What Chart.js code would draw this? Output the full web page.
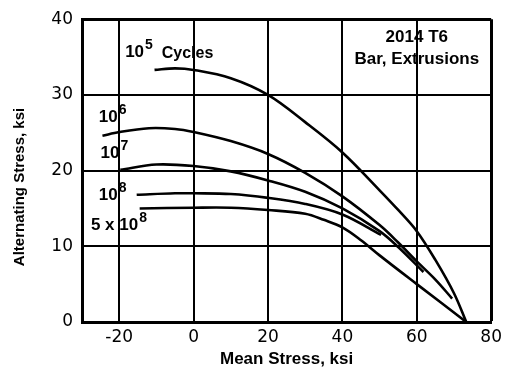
<!DOCTYPE html>
<html>
<head>
<meta charset="utf-8">
<script src="https://cdn.jsdelivr.net/npm/chart.js@4"></script>
<style>
  html, body { margin: 0; padding: 0; background: #fff; }
  #wrap { width: 507px; height: 371px; }
</style>
</head>
<body>
<div id="wrap"><canvas id="goodman"></canvas></div>
<script>
// axis ticks
const meanTicks = [-20, 0, 20, 40, 60, 80];
const altTicks = [0, 10, 20, 30, 40];

// constant life curves (mean stress, alternating stress) in ksi
const mean1e5 = [-10.5, -5, 0, 10, 20, 30, 40, 50, 55, 60, 65, 70, 73.3];
const alt1e5  = [33.3, 33.5, 33.3, 32.2, 30.0, 26.4, 22.4, 17.4, 14.8, 12.0, 8.2, 3.8, 0];

const mean1e6 = [-24.5, -20, -12, -5, 0, 10, 20, 30, 40, 50, 55, 60, 65, 69.5];
const alt1e6  = [24.6, 25.1, 25.6, 25.5, 25.1, 23.9, 22.2, 19.7, 16.6, 12.8, 10.5, 8.0, 5.6, 3.1];

const mean1e7 = [-19.7, -10, 0, 10, 20, 30, 40, 50, 55, 61.8];
const alt1e7  = [20.1, 20.8, 20.6, 19.9, 18.7, 17.2, 15.0, 12.0, 9.9, 6.6];

const mean1e8 = [-15.3, -5, 0, 10, 20, 30, 40, 50.4];
const alt1e8  = [16.8, 17.0, 17.0, 16.9, 16.4, 15.6, 14.2, 11.5];

const mean5e8 = [-14.5, 0, 10, 20, 30, 35, 40, 45, 50, 60, 73.3];
const alt5e8  = [15.0, 15.1, 15.1, 14.8, 14.3, 13.5, 12.5, 10.8, 8.8, 5.0, 0];

// curve labels: [prefix, base, exponent, suffix, mean, alt]
const curveLabels = [
  ['', '10', '5', '  Cycles', -18.4, 35.6],
  ['', '10', '6', '', -25.5, 27.0],
  ['', '10', '7', '', -25.0, 22.3],
  ['', '10', '8', '', -25.5, 16.7],
  ['5 x ', '10', '8', '', -27.6, 12.8]
];
const noteLines = ['2014 T6', 'Bar, Extrusions'];
const yTitle = 'Alternating Stress, ksi';

function pts(xs, ys) {
  return xs.map((x, i) => ({ x: x, y: ys[i] }));
}

function curve(xs, ys) {
  return {
    data: pts(xs, ys),
    borderColor: '#000',
    borderWidth: 2.6,
    pointRadius: 0,
    showLine: true,
    fill: false,
    tension: 0.35
  };
}

const labelPlugin = {
  id: 'labels',
  afterDatasetsDraw(chart) {
    const ctx = chart.ctx;
    const xs = chart.scales.x, ys = chart.scales.y;
    ctx.save();
    ctx.fillStyle = '#000';
    ctx.textBaseline = 'middle';
    ctx.textAlign = 'left';
    const big = 'bold 17px "Liberation Sans", Arial, sans-serif';
    const sup = 'bold 14px "Liberation Sans", Arial, sans-serif';
    curveLabels.forEach(l => {
      let px = xs.getPixelForValue(l[4]);
      const py = ys.getPixelForValue(l[5]);
      ctx.font = big;
      ctx.fillText(l[0] + l[1], px, py);
      px += ctx.measureText(l[0] + l[1]).width + 1;
      ctx.font = sup;
      ctx.fillText(l[2], px, py - 7);
      px += ctx.measureText(l[2]).width;
      ctx.font = 'bold 16px "Liberation Sans", Arial, sans-serif';
      if (l[3]) ctx.fillText(l[3], px, py + 1);
    });
    // note box text, upper right
    ctx.textAlign = 'center';
    ctx.font = 'bold 17px "Liberation Sans", Arial, sans-serif';
    const cx = xs.getPixelForValue(60);
    ctx.fillText(noteLines[0], cx, ys.getPixelForValue(37.6));
    ctx.fillText(noteLines[1], cx, ys.getPixelForValue(34.7));
    ctx.restore();
  },
  afterDraw(chart) {
    // rotated y axis title, a bit below the plot's middle as in the source
    const ctx = chart.ctx;
    ctx.save();
    ctx.translate(20, 187);
    ctx.rotate(-Math.PI / 2);
    ctx.textAlign = 'center';
    ctx.textBaseline = 'middle';
    ctx.fillStyle = '#000';
    ctx.font = 'bold 15px "Liberation Sans", Arial, sans-serif';
    ctx.fillText(yTitle, 0, 0);
    ctx.restore();
  }
};

new Chart(document.getElementById('goodman'), {
  type: 'scatter',
  data: {
    datasets: [
      curve(mean1e5, alt1e5),
      curve(mean1e6, alt1e6),
      curve(mean1e7, alt1e7),
      curve(mean1e8, alt1e8),
      curve(mean5e8, alt5e8)
    ]
  },
  options: {
    responsive: true,
    maintainAspectRatio: false,
    animation: false,
    layout: { padding: { top: 15, right: 10, left: 0, bottom: 0 } },
    plugins: { legend: { display: false }, tooltip: { enabled: false } },
    scales: {
      x: {
        type: 'linear',
        min: -30,
        max: 80,
        afterBuildTicks: s => { s.ticks = meanTicks.map(v => ({ value: v })); },
        afterFit: s => { s.height = 49; },
        grid: { color: '#000', lineWidth: c => (c.tick && c.tick.value === 80 ? 3 : 2), drawTicks: false },
        border: { display: true, color: '#000', width: 3 },
        ticks: {
          color: '#000',
          padding: 5,
          font: { family: '"DejaVu Sans", sans-serif', size: 17 }
        },
        title: {
          display: true,
          text: 'Mean Stress, ksi',
          color: '#000',
          padding: { top: 0, bottom: 1 },
          font: { family: '"Liberation Sans", Arial, sans-serif', size: 17, weight: 'bold' }
        }
      },
      y: {
        min: 0,
        max: 40,
        afterBuildTicks: s => { s.ticks = altTicks.map(v => ({ value: v })); },
        afterFit: s => { s.width = 82; },
        grid: { color: '#000', lineWidth: c => (c.tick && c.tick.value === 40 ? 3 : 2), drawTicks: false },
        border: { display: true, color: '#000', width: 3 },
        ticks: {
          color: '#000',
          padding: 9,
          font: { family: '"DejaVu Sans", sans-serif', size: 17 }
        },
        title: { display: false }
      }
    }
  },
  plugins: [labelPlugin]
});
</script>
</body>
</html>
